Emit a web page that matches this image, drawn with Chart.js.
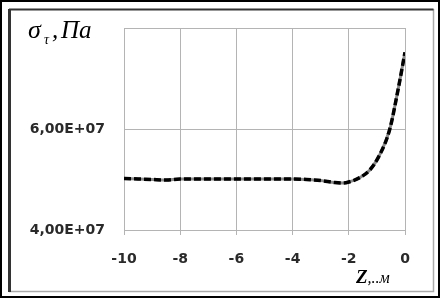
<!DOCTYPE html>
<html>
<head>
<meta charset="utf-8">
<script src="https://cdn.jsdelivr.net/npm/chart.js@4/dist/chart.umd.min.js"></script>
<style>
  html, body { margin: 0; padding: 0; background: #fff; }
  #wrap { width: 440px; height: 298px; position: relative; }
</style>
</head>
<body>
<div id="wrap"><canvas id="chart" width="440" height="298"></canvas></div>
<script>
"use strict";

// ── Data ──
const depthZ  = [-10, -9.5, -9, -8.5, -8, -7.5, -7, -6.5, -6, -5.5, -5, -4.5, -4, -3.5, -3, -2.5, -2.2, -2, -1.6, -1.25, -0.9, -0.55, -0.25, 0];
const stressE7 = [5.02, 5.01, 5.00, 4.99, 5.01, 5.01, 5.01, 5.01, 5.01, 5.01, 5.01, 5.01, 5.01, 5.00, 4.98, 4.94, 4.93, 4.95, 5.04, 5.19, 5.49, 5.98, 6.77, 7.52];
const yTicks  = [4e7, 6e7, 8e7];
const xTicks  = [-10, -8, -6, -4, -2, 0];

const points = depthZ.map((z, i) => ({ x: z, y: stressE7[i] * 1e7 }));

// ── Frame + axis titles ──
const framePlugin = {
  id: "frame",
  afterDraw(chart) {
    const c = chart.ctx;
    c.save();
    // outer black frame
    c.strokeStyle = "#000";
    c.lineWidth = 2;
    c.strokeRect(1, 1, 438, 296);
    // inner frame: dark top/left, light bottom/right
    c.strokeStyle = "#aaa";
    c.lineWidth = 1.5;
    c.beginPath();
    c.moveTo(433.5, 9); c.lineTo(433.5, 291.5); c.lineTo(9, 291.5);
    c.stroke();
    c.strokeStyle = "#333";
    c.lineWidth = 2;
    c.beginPath();
    c.moveTo(433.5, 9.5); c.lineTo(9, 9.5);
    c.stroke();
    c.lineWidth = 3;
    c.beginPath();
    c.moveTo(9.5, 9); c.lineTo(9.5, 292);
    c.stroke();

    // y title: σ_τ, Па
    c.fillStyle = "#000";
    c.textBaseline = "alphabetic";
    c.font = "italic 26px 'Liberation Serif'";
    c.fillText("σ", 28, 38);
    c.font = "italic 14px 'Liberation Serif'";
    c.fillText("τ", 44, 44);
    c.font = "italic 25px 'Liberation Serif'";
    c.fillText(",", 52, 38);
    c.fillText("Па", 61, 38);

    // x title: Z,.м
    c.font = "italic bold 19px 'Liberation Serif'";
    c.fillText("Z", 356, 283);
    const zw = c.measureText("Z").width;
    c.font = "italic 16px 'Liberation Serif'";
    c.fillText(",..м", 356 + zw, 283);
    c.restore();
  },
};

const tickFont = { family: "DejaVu Sans", size: 14, weight: "bold" };

new Chart(document.getElementById("chart"), {
  type: "line",
  data: {
    datasets: [
      {
        data: points,
        borderColor: "#000",
        borderWidth: 3.5,
        borderDash: [7, 3],
        pointRadius: 0,
        tension: 0.4,
        cubicInterpolationMode: "monotone",
      },
      {
        data: points,
        borderColor: "#8a8a8a",
        borderWidth: 3,
        pointRadius: 0,
        tension: 0.4,
        cubicInterpolationMode: "monotone",
      },
    ],
  },
  options: {
    responsive: false,
    animation: false,
    layout: { padding: { left: 0, right: 35, top: 28, bottom: 0 } },
    plugins: { legend: { display: false }, tooltip: { enabled: false } },
    scales: {
      x: {
        type: "linear",
        min: -10,
        max: 0,
        afterBuildTicks: s => { s.ticks = xTicks.map(v => ({ value: v })); },
        afterFit: s => { s.height = 68; },
        ticks: {
          color: "#2a2a2a",
          font: tickFont,
          padding: 16,
          maxRotation: 0,
          callback: v => String(v),
        },
        grid: { color: "#b4b4b4", lineWidth: 1, tickLength: 5, drawTicks: true },
        border: { color: "#b4b4b4" },
      },
      y: {
        type: "linear",
        min: 4e7,
        max: 8e7,
        afterBuildTicks: s => { s.ticks = yTicks.map(v => ({ value: v })); },
        afterFit: s => { s.width = 124; },
        ticks: {
          color: "#2a2a2a",
          font: tickFont,
          padding: 19,
          callback: v => v === 8e7 ? "" : (v / 1e7).toFixed(2).replace(".", ",") + "E+07",
        },
        grid: { color: "#b4b4b4", lineWidth: 1, drawTicks: false },
        border: { color: "#b4b4b4" },
      },
    },
  },
  plugins: [framePlugin],
});
</script>
</body>
</html>
